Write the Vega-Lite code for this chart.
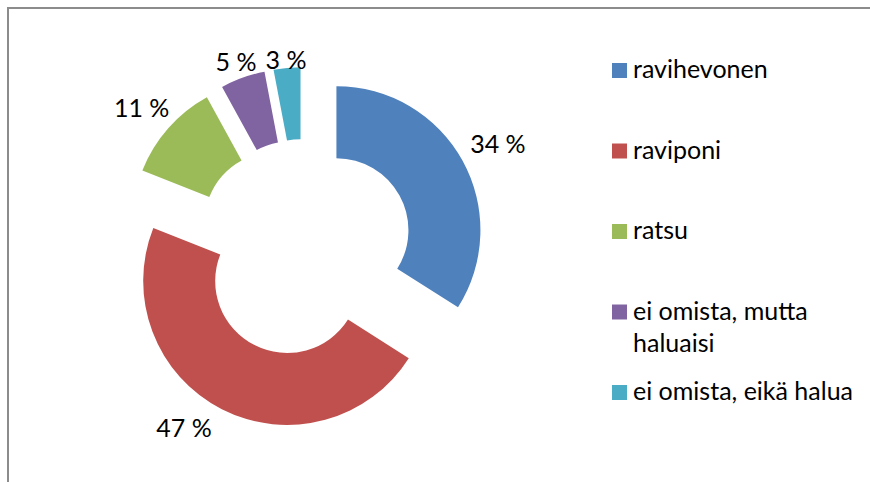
{
  "$schema": "https://vega.github.io/schema/vega-lite/v6.json",
  "width": 592,
  "height": 480,
  "autosize": {"type": "none"},
  "padding": {"left": 8, "top": 8, "right": 270, "bottom": 0},
  "background": "white",
  "view": {"stroke": "#8c8c8c", "strokeWidth": 2, "strokeDash": [592, 1072, 480]},
  "data": {
    "values": [
      {"cat": "ravihevonen", "value": 34, "label": "34 %", "idx": 1},
      {"cat": "raviponi", "value": 47, "label": "47 %", "idx": 2},
      {"cat": "ratsu", "value": 11, "label": "11 %", "idx": 3},
      {"cat": "ei omista, mutta haluaisi", "value": 5, "label": "5 %", "idx": 4},
      {"cat": "ei omista, eikä halua", "value": 3, "label": "3 %", "idx": 5}
    ]
  },
  "layer": [
    {
      "mark": {
        "type": "arc",
        "outerRadius": 144,
        "innerRadius": 72,
        "xOffset": {"expr": "37*sin(PI*(datum.value_start+datum.value_end)/100)"},
        "yOffset": {"expr": "-37*cos(PI*(datum.value_start+datum.value_end)/100)"}
      },
      "encoding": {
        "theta": {"field": "value", "type": "quantitative", "stack": true},
        "order": {"field": "idx", "type": "quantitative"},
        "color": {
          "field": "cat",
          "type": "nominal",
          "scale": {
            "domain": ["ravihevonen", "raviponi", "ratsu", "ei omista, mutta haluaisi", "ei omista, eikä halua"],
            "range": ["#4F81BD", "#C0504D", "#9BBB59", "#8064A2", "#4BACC6"]
          },
          "legend": {
            "orient": "none",
            "legendX": 549,
            "legendY": 0,
            "padding": 50,
            "title": null,
            "symbolType": "square",
            "symbolSize": 225,
            "symbolStrokeWidth": 0,
            "labelFont": "Lato",
            "labelFontSize": 25,
            "labelColor": "#000000",
            "labelOffset": 1,
            "labelBaseline": "alphabetic",
            "labelLimit": 0,
            "rowPadding": 23.5,
            "gridAlign": "all",
            "labelExpr": "datum.label == 'ei omista, mutta haluaisi' ? ['ei omista, mutta', 'haluaisi'] : datum.label",
            "encode": {
              "legend": {"update": {"stroke": {"value": "#8c8c8c"}, "strokeWidth": {"value": 2}, "strokeDash": {"value": [320, 5000]}}},
              "labels": {"update": {"dy": {"value": 7.5}, "lineHeight": {"value": 32}}}
            }
          }
        }
      }
    },
    {
      "mark": {
        "type": "text",
        "font": "Lato",
        "fontSize": 25,
        "color": "#000000",
        "align": "center",
        "baseline": "middle",
        "dy": 4,
        "radius": {"expr": "151 + 38*abs(sin(PI*(datum.value_start+datum.value_end)/100))"},
        "xOffset": {"expr": "37*sin(PI*(datum.value_start+datum.value_end)/100) - 30*max(0, -cos(PI*(datum.value_start+datum.value_end)/100))"},
        "yOffset": {"expr": "-37*cos(PI*(datum.value_start+datum.value_end)/100) - 7*max(0, -cos(PI*(datum.value_start+datum.value_end)/100))"}
      },
      "encoding": {
        "theta": {"field": "value", "type": "quantitative", "stack": true},
        "order": {"field": "idx", "type": "quantitative"},
        "text": {"field": "label", "type": "nominal"}
      }
    }
  ],
  "config": {
    "view": {"stroke": "#8c8c8c", "strokeWidth": 2}
  }
}
